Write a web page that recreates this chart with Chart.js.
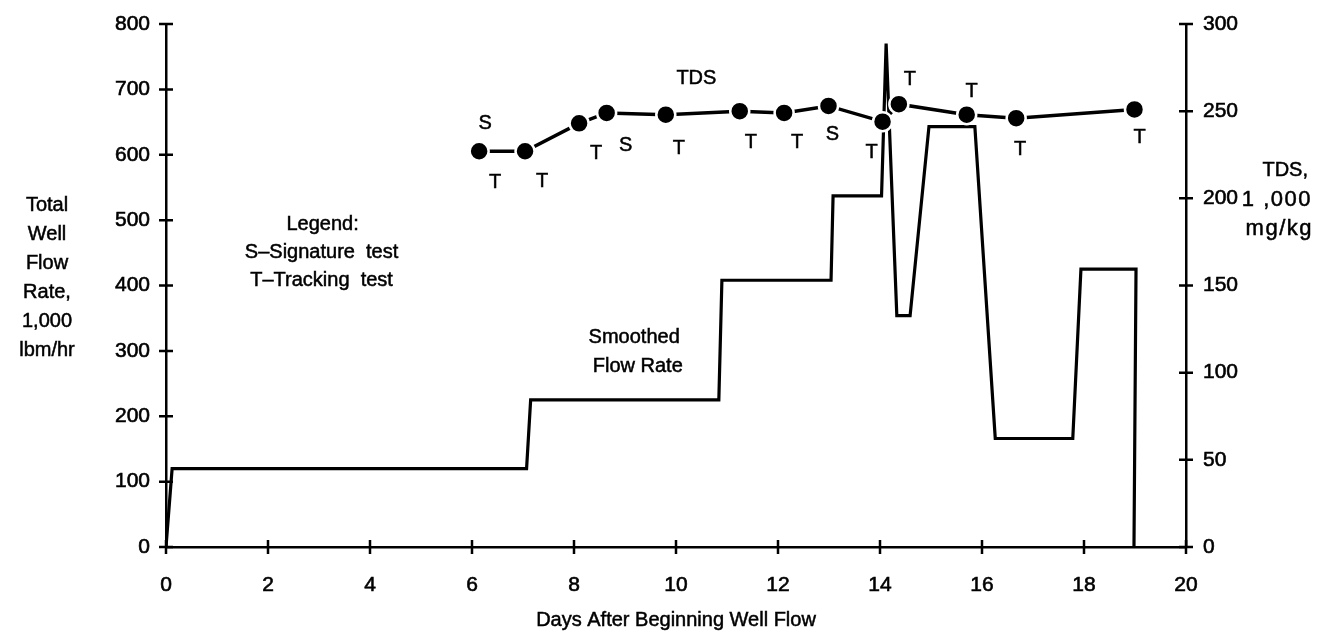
<!DOCTYPE html>
<html>
<head>
<meta charset="utf-8">
<title>Well flow rate and TDS</title>
<script src="https://cdn.jsdelivr.net/npm/chart.js"></script>
<style>
html, body { margin:0; padding:0; background:#fff; }
#chartBox { width:1319px; height:644px; }
</style>
</head>
<body>
<div id="chartBox"><canvas id="myChart" width="1319" height="644"></canvas></div>
<script>
// smoothed total well flow rate (1,000 lbm/hr) vs days
var flowDays = [0, 0.12, 7.07, 7.15, 10.84, 10.9, 13.04, 13.08, 14.03, 14.12, 14.33, 14.59, 14.96, 15.86, 16.26, 17.78, 17.94, 19.02, 18.98];
var flowRate = [0, 120, 120, 225, 225, 408, 408, 537, 537, 770, 354, 354, 643, 643, 166, 166, 425, 425, 0];

// TDS samples (1,000 mg/kg) and which test each came from
var tdsDays = [6.14, 7.04, 8.10, 8.64, 9.80, 11.25, 12.12, 12.99, 14.05, 14.37, 15.70, 16.67, 18.99];
var tdsValues = [227, 227, 243, 249, 248, 250, 249, 253, 244, 254, 248, 246, 251];
var tdsTests = [['S', 'T'], ['T'], ['T'], ['S'], ['T'], ['T'], ['T'], ['S'], ['T'], ['T'], ['T'], ['T'], ['T']];

// axis ticks
var dayTicks = [0, 2, 4, 6, 8, 10, 12, 14, 16, 18, 20];
var flowTicks = [0, 100, 200, 300, 400, 500, 600, 700, 800];
var tdsTicks = [0, 50, 100, 150, 200, 250, 300];

var FONT = "'Liberation Sans', Arial, Helvetica, sans-serif";
Chart.defaults.font.family = FONT;
Chart.defaults.color = '#000';

// where each test letter sits relative to its dot (px)
var letterOffsets = [[[6, -28], [16, 31]], [[17, 30]], [[17, 30]], [[19, 33]], [[13, 34]], [[11, 31]], [[13, 30]],
	[[4, 29]], [[-11, 31]], [[11, -25]], [[5, -23]], [[4, 31]], [[5, 28]]];

function toPoints(xs, ys){
	var pts = [];
	for(var i=0; i<xs.length; i++){
		pts.push({x: xs[i], y: ys[i]});
	}
	return pts;
}

function useTicks(list){
	return function(scale){
		scale.ticks = list.map(function(v){ return {value: v}; });
	};
}

// fixed axis box size, no extra label padding so the plot area stays put
function fixWidth(w){
	return function(scale){
		scale.width = w;
		scale.paddingTop = 0;
		scale.paddingBottom = 0;
	};
}

// tick label look shared by the three axes
function tickStyle(pad){
	return { padding: pad, font: { size: 21 }, color: '#000', textStrokeColor: '#000', textStrokeWidth: 0.6 };
}

// crossing tick marks on all three axes
var axisMarks = {
	id: 'axisMarks',
	afterDraw: function(chart){
		var c = chart.ctx, a = chart.chartArea, s = chart.scales;
		c.save();
		c.strokeStyle = '#000';
		c.lineWidth = 2.5;
		c.beginPath();
		s.x.ticks.forEach(function(t){
			var px = s.x.getPixelForValue(t.value);
			c.moveTo(px, a.bottom - 7); c.lineTo(px, a.bottom + 7);
		});
		s.y.ticks.forEach(function(t){
			var py = s.y.getPixelForValue(t.value);
			c.moveTo(a.left - 7, py); c.lineTo(a.left + 7, py);
		});
		s.y2.ticks.forEach(function(t){
			var py = s.y2.getPixelForValue(t.value);
			c.moveTo(a.right - 7, py); c.lineTo(a.right + 7, py);
		});
		c.stroke();
		c.restore();
	}
};

// axis titles, legend note, curve names and S/T letters
var chartText = {
	id: 'chartText',
	afterDraw: function(chart){
		var c = chart.ctx, s = chart.scales;
		c.save();
		c.fillStyle = '#000';
		c.strokeStyle = '#000';
		c.lineWidth = 0.5;
		c.textBaseline = 'middle';

		function put(txt, x, y, size, align, spacing){
			c.font = size + 'px ' + FONT;
			c.textAlign = align || 'center';
			c.letterSpacing = (spacing || 0) + 'px';
			c.fillText(txt, x, y);
			c.strokeText(txt, x, y);
			c.letterSpacing = '0px';
		}

		// left axis title
		['Total', 'Well', 'Flow', 'Rate,', '1,000', 'lbm/hr'].forEach(function(t, i){
			put(t, 47, 205 + i * 29, 20);
		});
		// right axis title
		put('TDS,', 1308, 170, 20, 'right');
		put('1 ,000', 1312, 200, 22, 'right', 1.5);
		put('mg/kg', 1313, 229, 22, 'right', 1.5);
		put('Days After Beginning Well Flow', 676, 620, 20);

		// legend note, placed in flow units
		put('Legend:', s.x.getPixelForValue(3.07), s.y.getPixelForValue(494), 20);
		put('S\u2013Signature  test', s.x.getPixelForValue(3.05), s.y.getPixelForValue(451), 20);
		put('T\u2013Tracking  test', s.x.getPixelForValue(3.05), s.y.getPixelForValue(408), 20);

		put('Smoothed', s.x.getPixelForValue(9.18), s.y.getPixelForValue(321), 20);
		put('Flow Rate', s.x.getPixelForValue(9.25), s.y.getPixelForValue(276), 20);
		put('TDS', s.x.getPixelForValue(10.4), s.y2.getPixelForValue(269), 20);

		// test letters next to each TDS point
		for(var i=0; i<tdsDays.length; i++){
			var px = s.x.getPixelForValue(tdsDays[i]);
			var py = s.y2.getPixelForValue(tdsValues[i]);
			tdsTests[i].forEach(function(letter, j){
				var off = letterOffsets[i][j];
				put(letter, px + off[0], py + off[1], 20);
			});
		}
		c.restore();
	}
};

var ctx = document.getElementById('myChart').getContext('2d');
var myChart = new Chart(ctx, {
	type: 'line',
	data: {
		datasets: [
			{
				label: 'TDS',
				data: toPoints(tdsDays, tdsValues),
				yAxisID: 'y2',
				borderColor: '#000',
				borderWidth: 3.5,
				pointRadius: 9.5,
				pointBackgroundColor: '#000',
				pointBorderColor: '#fff',
				pointBorderWidth: 2.5,
				tension: 0
			},
			{
				label: 'Smoothed Flow Rate',
				data: toPoints(flowDays, flowRate),
				yAxisID: 'y',
				borderColor: '#000',
				borderWidth: 3.2,
				borderJoinStyle: 'miter',
				pointRadius: 0,
				tension: 0
			}
		]
	},
	options: {
		responsive: false,
		animation: false,
		devicePixelRatio: 1,
		layout: { padding: { top: 24 } },
		plugins: {
			legend: { display: false },
			tooltip: { enabled: false }
		},
		scales: {
			x: {
				type: 'linear', min: 0, max: 20,
				afterBuildTicks: useTicks(dayTicks),
				afterFit: function(scale){ scale.height = 97; },
				grid: { drawOnChartArea: false, drawTicks: false },
				border: { color: '#000', width: 2.5 },
				ticks: tickStyle(26)
			},
			y: {
				type: 'linear', position: 'left', min: 0, max: 800,
				afterBuildTicks: useTicks(flowTicks),
				afterFit: fixWidth(166),
				grid: { drawOnChartArea: false, drawTicks: false },
				border: { color: '#000', width: 2.5 },
				ticks: tickStyle(16)
			},
			y2: {
				type: 'linear', position: 'right', min: 0, max: 300,
				afterBuildTicks: useTicks(tdsTicks),
				afterFit: fixWidth(133),
				grid: { drawOnChartArea: false, drawTicks: false },
				border: { color: '#000', width: 2.5 },
				ticks: tickStyle(17)
			}
		}
	},
	plugins: [axisMarks, chartText]
});
</script>
</body>
</html>
